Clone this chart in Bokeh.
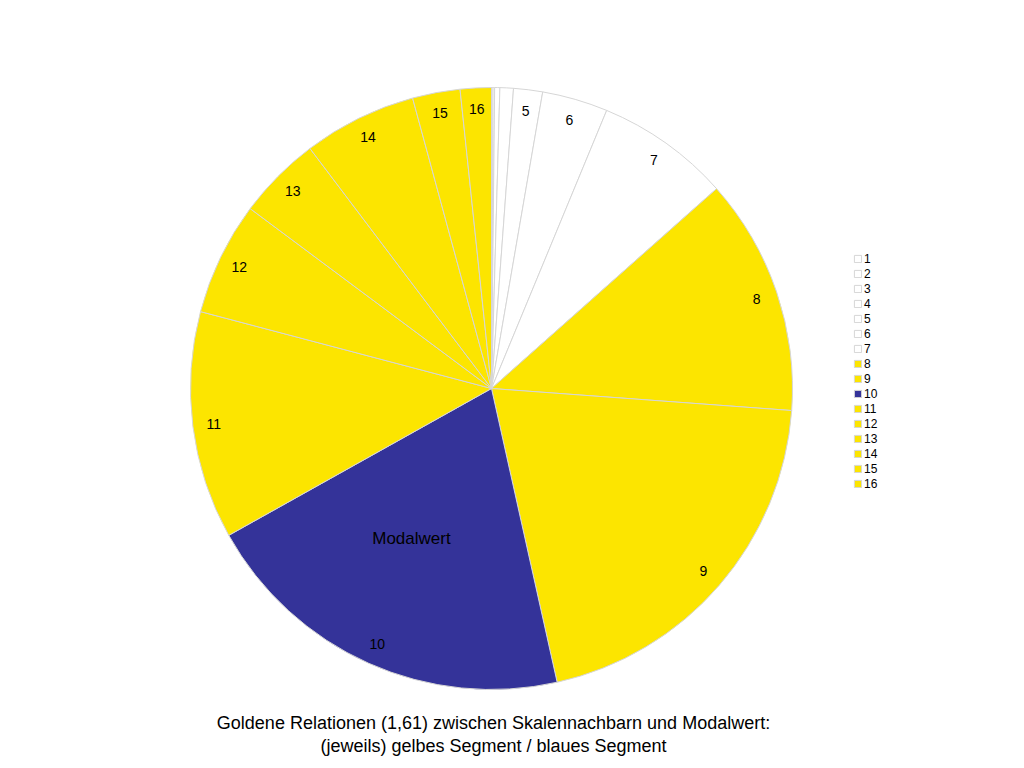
import numpy as np
from bokeh.plotting import figure
from bokeh.models import Range1d, Legend, LegendItem, Label, ColumnDataSource
from bokeh.embed import file_html
from bokeh.resources import INLINE
from bokeh.core.properties import value

# ---- data ----
categories = [str(i) for i in range(1, 17)]
values = [0.3, 0.3, 1.0, 2.6, 5.6, 12.7, 25.9, 45.8, 73.2, 73.4, 44.0, 21.9, 16.2, 21.9, 9.2, 6.0]
colors = ["#FFFFFF"] * 7 + ["#FCE500", "#FCE500", "#343399"] + ["#FCE500"] * 6
show_label = [False] * 4 + [True] * 12
title_lines = ["Goldene Relationen (1,61) zwischen Skalennachbarn und Modalwert:",
               "(jeweils) gelbes Segment / blaues Segment"]
mode_label = "Modalwert"
mode_index = 9

# ---- layout (data units = page pixels, y measured upward from page bottom) ----
W, H = 1008, 760
FONT = "Liberation Sans"
cx, cy = 491, 768 - 388
R = 301

v = np.array(values, dtype=float)
frac = v / v.sum() * 2 * np.pi
cum = np.cumsum(frac)
start_cw = cum - frac
end_cw = cum
mid_cw = cum - frac / 2

src = ColumnDataSource(dict(
    start=np.pi / 2 - end_cw,
    end=np.pi / 2 - start_cw,
    color=colors,
    cat=categories,
))

p = figure(width=W, height=H, x_range=Range1d(0, W), y_range=Range1d(768 - H, 768),
           output_backend="svg", toolbar_location=None, min_border=0,
           x_axis_type=None, y_axis_type=None)
p.grid.visible = False
p.outline_line_color = None

wr = p.wedge(x=cx, y=cy, radius=R, start_angle="start", end_angle="end",
             fill_color="color", line_color="#d6d6d6", line_width=1, source=src)

# slice labels
lr = 280
idx = [i for i in range(len(values)) if show_label[i]]
lab_src = ColumnDataSource(dict(
    x=[cx + lr * np.sin(mid_cw[i]) for i in idx],
    y=[cy + lr * np.cos(mid_cw[i]) for i in idx],
    t=[categories[i] for i in idx],
))
p.text(x="x", y="y", text="t", source=lab_src, text_align="center", text_baseline="middle",
       text_font=value(FONT), text_font_size="14px", text_color="#000000")

# mode label
ma = mid_cw[mode_index] + np.radians(4)
p.add_layout(Label(x=cx + 170 * np.sin(ma), y=cy + 170 * np.cos(ma), text=mode_label,
                   text_align="center", text_baseline="middle", text_font=FONT,
                   text_font_size="17px", text_color="#000000"))

# title lines
for k, line in enumerate(title_lines):
    p.add_layout(Label(x=493, y=768 - 722 - 23 * k, text=line, text_align="center",
                       text_baseline="middle", text_font=FONT, text_font_size="18px",
                       text_color="#000000"))

# legend
items = [LegendItem(label=categories[i], renderers=[wr], index=i) for i in range(len(values))]
legend = Legend(items=items, location=(853, 269), glyph_width=9, glyph_height=9,
                label_height=15, spacing=0, padding=0, margin=0, label_standoff=2,
                label_text_font=FONT, label_text_font_size="12px", label_text_color="#000000",
                border_line_alpha=0, background_fill_alpha=0)
p.add_layout(legend)

open("out.html", "w").write(file_html(p, INLINE))
